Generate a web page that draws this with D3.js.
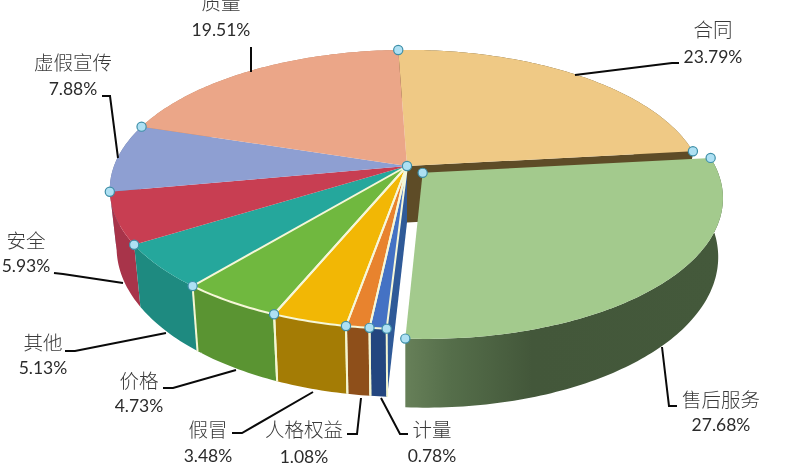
<!DOCTYPE html>
<html><head><meta charset="utf-8">
<script src="https://cdn.jsdelivr.net/npm/d3@7/dist/d3.min.js"></script>
<style>
html,body{margin:0;padding:0;background:#fff;overflow:hidden}
svg{display:block;filter:blur(0.35px)}
text{text-anchor:middle;fill:#2b2b2b}
.cat{font-family:"Noto Sans CJK SC",sans-serif;font-size:19.5px;font-weight:300;fill:#3a3a3a}
.pct{font-family:Lato,sans-serif;font-size:17.5px}
</style></head><body>
<svg id="c" width="785" height="465"></svg>
<script>
// ---- data ----
const categories = ["合同","售后服务","计量","人格权益","假冒","价格","其他","安全","虚假宣传","质量"];
const shares = [23.79,27.68,0.78,1.08,3.48,4.73,5.13,5.93,7.88,19.51];
const exploded = ["售后服务"];
const outlined = ["计量","人格权益","假冒","价格"];

// ---- style ----
const topColors = ["#EFC985","#A3CA8D","#4472C4","#E8832E","#F2B705","#70B83F","#25A79C","#C83E52","#8E9FD2","#EBA688"];
const sideColors = ["#5E4C27","url(#greenSide)","#23467F","#8E4F1A","#A47C05","#5A9432","#1E8A80","#A8344A","#71809F","#B98468"];
const cutColors = {"合同":"#5E4C27","计量":"#2F5A98"};

// ---- annotation layout: [name, label x, name baseline, pct baseline, leader polyline] ----
const annotations = [
 ["合同",713,37,63,[[679,63],[672,63],[575,75]]],
 ["售后服务",721,407,431,[[677,406],[669,406],[662,347]]],
 ["计量",432,437,462,[[408,434],[400,434],[381,398]]],
 ["人格权益",304,437,463,[[347,434],[357,434],[361,398]]],
 ["假冒",208,437,462,[[232,433],[242,433],[313,392]]],
 ["价格",139,388,412,[[163,388],[173,388],[236,370]]],
 ["其他",43,350,374,[[65,351],[75,351],[166,333]]],
 ["安全",26,248,272,[[54,273],[63,274],[123,283]]],
 ["虚假宣传",73,70,95,[[102,96],[110,96],[118,158]]],
 ["质量",221,10,36,[[251,47],[251,72]]]
];

// ---- projection of the tilted disc ----
const Xc=407, Yc=166, a=293, b=135.6, k=0.168, depth=56.6, shrink=0.977, shrinkOut=0.985, explodeBy=0.073;
const sx=d3.scaleLinear().domain([-1,1]).range([Xc-a,Xc+a]);
const sy=d3.scaleLinear().domain([-1,1]).range([Yc-b,Yc+b]);
const sxLow=d3.scaleLinear().domain([-1,1]).range([Xc-a*shrink,Xc+a*shrink]);
const sxLowOut=d3.scaleLinear().domain([-1,1]).range([Xc-a*shrinkOut,Xc+a*shrinkOut]);
const startDeg=-2;
const pie=d3.pie().sort(null).startAngle(startDeg*Math.PI/180).endAngle((startDeg+360)*Math.PI/180);
const rows=categories.map((c,i)=>({c,i,v:shares[i]}));
const arcs=pie.value(d=>d.v)(rows);
const line=d3.line();
const isOut=s=>exploded.includes(s.data.c);

function offset(s){
  if(!isOut(s)) return [0,0];
  const m=(s.startAngle+s.endAngle)/2;
  return [explodeBy*Math.sin(m),-explodeBy*Math.cos(m)];
}
function P(u,v,low,out){
  const w=1-k*v;
  const X=(low?(out?sxLowOut:sxLow):sx)(u/w);
  const Y=sy(v/w)+(low?depth/w:0);
  return [X,Y];
}
function rim(s,low){
  const [du,dv]=offset(s), A=s.startAngle, B=s.endAngle;
  const n=Math.max(4,Math.ceil((B-A)*60));
  return d3.range(n+1).map(i=>{const t=A+(B-A)*i/n;return P(Math.sin(t)+du,-Math.cos(t)+dv,low,isOut(s));});
}
function rimPoint(s,t){const [du,dv]=offset(s);return P(Math.sin(t)+du,-Math.cos(t)+dv,false);}
function apex(s,low){const [du,dv]=offset(s);return P(du,dv,low,isOut(s));}
const topPath=s=>line([apex(s),...rim(s)])+"Z";
// the wall is swept as many small quads so that its silhouette stays filled
const sidePath=s=>{const hi=rim(s),lo=rim(s,true);
  return d3.range(hi.length-1).map(i=>line([hi[i],hi[i+1],lo[i+1],lo[i]])+"Z").join("");};
const cutPath=(s,t)=>{const [du,dv]=offset(s);
  return line([apex(s),rimPoint(s,t),P(Math.sin(t)+du,-Math.cos(t)+dv,true),apex(s,true)])+"Z";};

// ---- draw ----
const svg=d3.select("#c");
const defs=svg.append("defs");
const g=defs.append("linearGradient").attr("id","greenSide").attr("gradientUnits","userSpaceOnUse")
  .attr("x1",407).attr("x2",720).attr("y1",0).attr("y2",0);
[[0,"#667F58"],[0.14,"#556E4A"],[0.4,"#43573A"],[1,"#44593B"]].forEach(([o,c])=>g.append("stop").attr("offset",o).attr("stop-color",c));

const byName=n=>arcs.find(s=>s.data.c===n);
const still=arcs.filter(s=>!isOut(s));
const order=[...still].sort((p,q)=>{
  const m=s=>Math.cos((s.startAngle+s.endAngle)/2);
  return m(q)-m(p);
});

const base=svg.append("g");
base.append("path").attr("d",cutPath(byName("合同"),byName("合同").endAngle)).attr("fill",cutColors["合同"]);
base.selectAll("path.side").data(order).join("path").attr("class","side")
  .attr("d",sidePath).attr("fill",s=>sideColors[s.data.i]);
base.append("path").attr("d",cutPath(byName("计量"),byName("计量").startAngle)).attr("fill",cutColors["计量"]);

outlined.forEach(n=>{const s=byName(n);
  [s.startAngle,s.endAngle].forEach(t=>{
    const top=rimPoint(s,t),low=P(Math.sin(t),-Math.cos(t),true);
    base.append("path").attr("d",line([top,low])).attr("stroke","#F4F6D2").attr("stroke-width",2).attr("fill","none");
  });
});

base.selectAll("path.top").data(still).join("path").attr("class","top")
  .attr("d",topPath).attr("fill",s=>topColors[s.data.i]);
base.selectAll("path.edge").data(still.filter(s=>outlined.includes(s.data.c))).join("path").attr("class","edge")
  .attr("d",topPath).attr("fill","none").attr("stroke","#F6F7D8").attr("stroke-width",2).attr("stroke-linejoin","round");

const front=svg.append("g");
arcs.filter(isOut).forEach(s=>{
  front.append("path").attr("d",sidePath(s)).attr("fill",sideColors[s.data.i]);
  front.append("path").attr("d",topPath(s)).attr("fill",topColors[s.data.i]);
});

svg.append("g").selectAll("path").data(annotations).join("path")
  .attr("d",d=>line(d[4])).attr("fill","none").attr("stroke","#0a0a0a").attr("stroke-width",2);

const handles=[];
still.forEach(s=>handles.push(rimPoint(s,s.startAngle)));
handles.push(rimPoint(byName("合同"),byName("合同").endAngle));
handles.push(apex(byName("合同")));
arcs.filter(isOut).forEach(s=>{
  handles.push(rimPoint(s,s.startAngle),rimPoint(s,s.endAngle),apex(s));
});
svg.append("g").selectAll("circle").data(handles).join("circle")
  .attr("cx",d=>d[0]).attr("cy",d=>d[1]).attr("r",4.6)
  .attr("fill","#AEE0F3").attr("stroke","#3E8FA8").attr("stroke-width",1.2);

const lab=svg.append("g");
annotations.forEach(([n,x,y1,y2])=>{
  lab.append("text").attr("class","cat").attr("x",x).attr("y",y1).text(n);
  lab.append("text").attr("class","pct").attr("x",x).attr("y",y2).text(shares[categories.indexOf(n)].toFixed(2)+"%");
});
</script></body></html>
